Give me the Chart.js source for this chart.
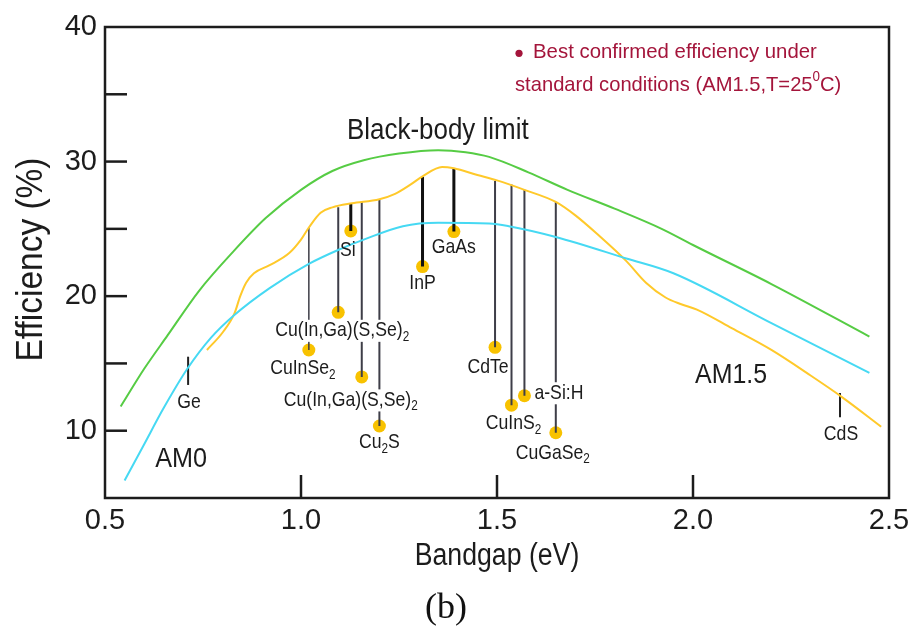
<!DOCTYPE html>
<html>
<head>
<meta charset="utf-8">
<script src="https://cdn.jsdelivr.net/npm/chart.js@4.4.1/dist/chart.umd.min.js"></script>
<style>
  html, body { margin: 0; padding: 0; background: #fff; }
  canvas { display: block; }
</style>
</head>
<body>
<canvas id="chart" width="911" height="631"></canvas>
<script>
// Theoretical efficiency limits vs. bandgap: [bandgap (eV), efficiency (%)]
const blackBodyLimit = [
  [0.54, 11.8], [0.60, 14.6], [0.66, 17.1], [0.74, 20.4], [0.83, 23.4],
  [0.91, 25.8], [1.00, 27.9], [1.08, 29.3], [1.16, 30.1], [1.25, 30.6],
  [1.35, 30.85], [1.42, 30.7], [1.48, 30.35], [1.58, 29.2], [1.68, 27.9],
  [1.80, 26.5], [1.92, 25.0], [2.00, 23.8], [2.20, 20.9], [2.45, 17.0]
];
const am0Limit = [
  [0.55, 6.3], [0.60, 9.0], [0.65, 11.7], [0.71, 14.6], [0.77, 16.9],
  [0.83, 18.6], [0.92, 20.6], [1.02, 22.4], [1.10, 23.5], [1.16, 24.2],
  [1.26, 25.2], [1.35, 25.45], [1.48, 25.4], [1.53, 25.2], [1.65, 24.4],
  [1.83, 22.8], [1.95, 21.7], [2.20, 18.0], [2.45, 14.3]
];
const am15Limit = [
  [0.76, 16.0], [0.80, 17.3], [0.83, 18.7], [0.845, 20.0], [0.86, 21.0],
  [0.88, 21.7], [0.92, 22.3], [0.97, 23.2], [1.00, 24.2], [1.02, 25.1],
  [1.05, 26.2], [1.08, 26.6], [1.13, 26.9], [1.20, 27.2], [1.24, 27.6],
  [1.28, 28.3], [1.31, 28.9], [1.36, 29.6], [1.39, 29.5], [1.45, 29.0],
  [1.50, 28.6], [1.57, 27.9], [1.65, 27.0], [1.70, 26.0], [1.76, 24.5],
  [1.83, 22.6], [1.88, 21.0], [1.93, 19.9], [1.97, 19.4], [2.01, 19.0],
  [2.10, 17.6], [2.20, 16.0], [2.30, 14.1], [2.38, 12.5], [2.48, 10.3]
];

// Best confirmed cell efficiencies (AM1.5, 25 °C)
const materials = ['CuInSe_2', 'Cu(In,Ga)(S,Se)_2', 'Si', 'Cu(In,Ga)(S,Se)_2', 'Cu_2S',
                   'InP', 'GaAs', 'CdTe', 'CuInS_2', 'a-Si:H', 'CuGaSe_2'];
const bandgaps     = [1.02, 1.095, 1.127, 1.155, 1.20, 1.31, 1.39, 1.495, 1.537, 1.57, 1.65];
const efficiencies = [16.0, 18.8, 24.85, 14.0, 10.35, 22.2, 24.8, 16.2, 11.9, 12.6, 9.85];
const limitAtGap   = [25.1, 26.6, 26.9, 27.0, 27.2, 28.85, 29.45, 28.55, 28.3, 27.9, 27.0];

// Bandgap marks without a record cell: [low, high] extent of the mark
const markMaterials = ['Ge', 'CdS'];
const markGaps      = [0.712, 2.375];
const markSpans     = [[13.4, 15.5], [11.0, 12.8]];

// Axis tick labels
const xTickLabels = ['0.5', '1.0', '1.5', '2.0', '2.5'];
const yTickLabels = ['10', '20', '30', '40'];

// ---- styling ----
const SANS = "'Liberation Sans', Arial, Helvetica, sans-serif";
const INK = '#1c1c1c';
const COLORS = { blackBody: '#56cc44', am0: '#46d9f3', am15: '#ffc92a', dot: '#f8c200', annot: '#a4153b' };
const heavy = new Set(['Si', 'InP', 'GaAs']);

// label placement relative to each record dot (px)
const recordLabelLayout = [
  { dx: -6, dy: 18 }, { dx: 4, dy: 18, knockout: true }, { dx: -3, dy: 19 },
  { dx: -11, dy: 23, knockout: true }, { dx: 0, dy: 16 }, { dx: 0, dy: 17 },
  { dx: 0, dy: 16 }, { dx: -7, dy: 20 }, { dx: 2, dy: 18 },
  { dx: 10, dy: -3, align: 'left', knockout: true }, { dx: -3, dy: 20 }
];

const pts = arr => arr.map(([x, y]) => ({ x, y }));

const datasets = [
  { data: pts(blackBodyLimit), borderColor: COLORS.blackBody },
  { data: pts(am0Limit), borderColor: COLORS.am0 },
  { data: pts(am15Limit), borderColor: COLORS.am15 }
].map(d => Object.assign(d, {
  showLine: true, borderWidth: 2, pointRadius: 0, fill: false,
  cubicInterpolationMode: 'monotone'
}));

// record lines: from the AM1.5 limit down to the achieved efficiency
materials.forEach((m, i) => {
  const label = m.replace(/_/g, '');
  datasets.push({
    data: [{ x: bandgaps[i], y: limitAtGap[i] }, { x: bandgaps[i], y: efficiencies[i] }],
    showLine: true, pointRadius: 0,
    borderWidth: heavy.has(label) ? 3 : (i === 0 ? 1.5 : 2),
    borderColor: heavy.has(label) ? '#111' : '#3e3e48'
  });
});
markMaterials.forEach((m, i) => {
  datasets.push({
    data: [{ x: markGaps[i], y: markSpans[i][0] }, { x: markGaps[i], y: markSpans[i][1] }],
    showLine: true, pointRadius: 0, borderWidth: 2, borderColor: '#222'
  });
});
datasets.push({
  data: bandgaps.map((g, i) => ({ x: g, y: efficiencies[i] })),
  showLine: false, pointRadius: 6.5, pointHoverRadius: 6.5,
  backgroundColor: COLORS.dot, borderWidth: 0
});

// split "Cu_2S" / "25^0C" into plain, subscript and superscript runs
function segments(str) {
  const out = []; let buf = '';
  for (let i = 0; i < str.length; i++) {
    const c = str[i];
    if ((c === '_' || c === '^') && i + 1 < str.length) {
      if (buf) { out.push({ t: buf, k: '' }); buf = ''; }
      out.push({ t: str[i + 1], k: c }); i++;
    } else buf += c;
  }
  if (buf) out.push({ t: buf, k: '' });
  return out;
}

// text with sub/superscripts, optional horizontal condensing (sx) and rotation
function drawRich(ctx, str, x, y, o) {
  const sx = o.sx || 1;
  const segs = segments(str);
  const main = `${o.size}px ${o.family || SANS}`;
  const small = `${Math.round(o.size * 0.66)}px ${o.family || SANS}`;
  let w = 0;
  const ws = segs.map(s => { ctx.font = s.k ? small : main; const m = ctx.measureText(s.t).width; w += m; return m; });
  ctx.save();
  ctx.translate(x, y);
  if (o.rot) ctx.rotate(o.rot);
  const base = o.baseline || 'middle';
  let x0 = o.align === 'left' ? 0 : -w * sx / 2;
  if (o.knockout) {
    ctx.fillStyle = '#fff';
    ctx.fillRect(x0 - 2, -o.size * 0.5, w * sx + 4, o.size * 1.05);
  }
  ctx.scale(sx, 1);
  x0 /= sx;
  ctx.fillStyle = o.color || INK;
  ctx.textBaseline = base;
  ctx.textAlign = 'left';
  segs.forEach((s, i) => {
    ctx.font = s.k ? small : main;
    const dy = s.k === '_' ? o.size * 0.32 : s.k === '^' ? -o.size * 0.38 : 0;
    ctx.fillText(s.t, x0, dy);
    x0 += ws[i];
  });
  ctx.restore();
}

const decorations = {
  id: 'decorations',
  afterDatasetsDraw(chart) {
    const { ctx, chartArea: a, scales: { x, y } } = chart;
    ctx.save();
    // frame
    ctx.strokeStyle = INK; ctx.lineWidth = 2.5;
    ctx.strokeRect(a.left, a.top, a.right - a.left, a.bottom - a.top);
    // inward tick marks
    y.ticks.forEach(t => {
      if (t.value <= y.min || t.value >= y.max) return;
      const py = y.getPixelForValue(t.value);
      ctx.beginPath(); ctx.moveTo(a.left, py); ctx.lineTo(a.left + 22, py); ctx.stroke();
    });
    x.ticks.forEach(t => {
      if (t.value <= x.min || t.value >= x.max) return;
      const px = x.getPixelForValue(t.value);
      ctx.beginPath(); ctx.moveTo(px, a.bottom); ctx.lineTo(px, a.bottom - 23); ctx.stroke();
    });

    // axis titles
    drawRich(ctx, 'Bandgap (eV)', (a.left + a.right) / 2, a.bottom + 67,
      { size: 31, sx: 0.86, baseline: 'alphabetic' });
    drawRich(ctx, 'Efficiency (%)', a.left - 63, (a.top + a.bottom) / 2 - 3,
      { size: 36, sx: 0.93, baseline: 'alphabetic', rot: -Math.PI / 2 });

    // record labels
    materials.forEach((m, i) => {
      const L = recordLabelLayout[i];
      drawRich(ctx, m, x.getPixelForValue(bandgaps[i]) + L.dx, y.getPixelForValue(efficiencies[i]) + L.dy,
        { size: 21, sx: 0.84, align: L.align, knockout: L.knockout });
    });
    markMaterials.forEach((m, i) => {
      drawRich(ctx, m, x.getPixelForValue(markGaps[i]) + 1, y.getPixelForValue(markSpans[i][0]) + 17,
        { size: 21, sx: 0.84 });
    });

    // curve names
    drawRich(ctx, 'Black-body limit', x.getPixelForValue(1.349), y.getPixelForValue(31.68),
      { size: 29.5, sx: 0.88, baseline: 'alphabetic' });
    drawRich(ctx, 'AM0', x.getPixelForValue(0.694), y.getPixelForValue(7.31),
      { size: 28, sx: 0.9, baseline: 'alphabetic' });
    drawRich(ctx, 'AM1.5', x.getPixelForValue(2.097), y.getPixelForValue(13.55),
      { size: 28, sx: 0.89, baseline: 'alphabetic' });

    // note on record conditions
    const nx = x.getPixelForValue(1.546);
    const ny1 = y.getPixelForValue(38.12), ny2 = y.getPixelForValue(35.68);
    ctx.fillStyle = COLORS.annot;
    ctx.beginPath(); ctx.arc(nx + 4, ny1 + 1, 3.6, 0, Math.PI * 2); ctx.fill();
    drawRich(ctx, 'Best confirmed efficiency under', nx + 18, ny1,
      { size: 21, sx: 0.97, align: 'left', color: COLORS.annot });
    drawRich(ctx, 'standard conditions (AM1.5,T=25^0C)', nx, ny2,
      { size: 21, sx: 0.96, align: 'left', color: COLORS.annot });

    // panel tag
    ctx.fillStyle = '#111';
    ctx.font = "36px 'Liberation Serif', 'DejaVu Serif', serif";
    ctx.textAlign = 'center'; ctx.textBaseline = 'middle';
    ctx.fillText('(b)', 446, 609);
    ctx.restore();
  }
};

new Chart(document.getElementById('chart'), {
  type: 'scatter',
  data: { datasets },
  options: {
    responsive: false, animation: false, devicePixelRatio: 1,
    layout: { padding: { left: 0, right: 22, top: 27, bottom: 0 } },
    plugins: { legend: { display: false }, tooltip: { enabled: false } },
    events: [],
    scales: {
      x: {
        type: 'linear', min: 0.5, max: 2.5,
        grid: { display: false, drawTicks: false }, border: { display: false },
        ticks: {
          stepSize: 0.5, padding: 6, color: INK, font: { family: SANS, size: 29 },
          callback: v => xTickLabels.find(l => Math.abs(parseFloat(l) - v) < 1e-6) || ''
        },
        afterFit(s) { s.height = 133; s.paddingLeft = 0; s.paddingRight = 0; }
      },
      y: {
        type: 'linear', min: 5, max: 40,
        grid: { display: false, drawTicks: false }, border: { display: false },
        ticks: {
          stepSize: 5, padding: 8, color: INK, font: { family: SANS, size: 29 },
          callback: v => yTickLabels.find(l => parseFloat(l) === v) || ''
        },
        afterFit(s) { s.width = 105; s.paddingTop = 0; s.paddingBottom = 0; }
      }
    }
  },
  plugins: [decorations]
});
</script>
</body>
</html>
